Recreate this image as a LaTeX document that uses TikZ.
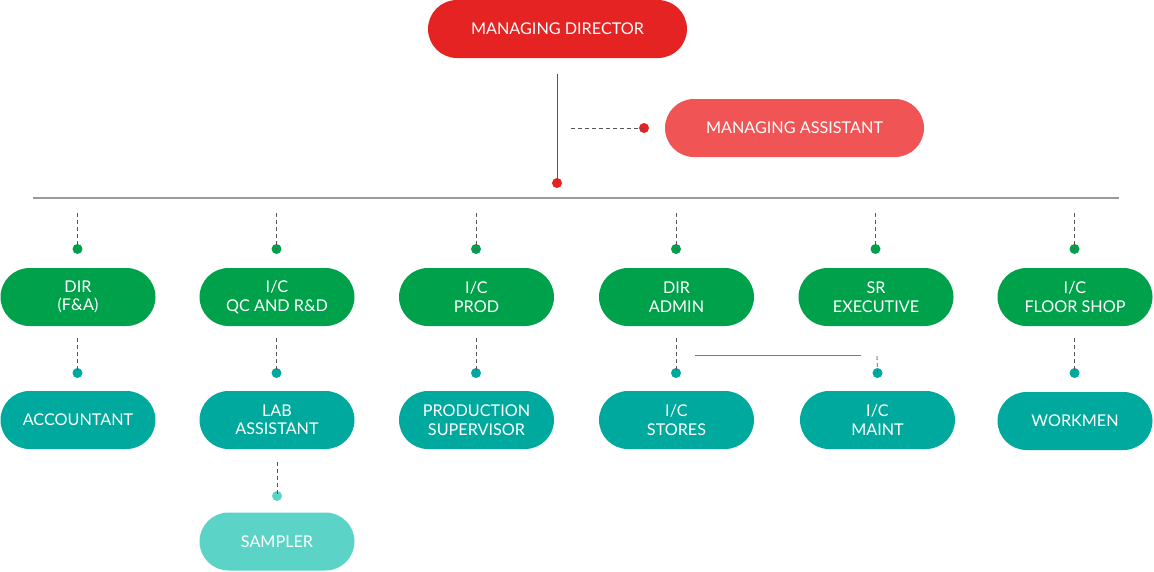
\documentclass[tikz,border=0pt]{standalone}
\usepackage{fontspec}
\setmainfont{Lato}
\definecolor{mdred}{HTML}{E62323}
\definecolor{mared}{HTML}{F05455}
\definecolor{dgreen}{HTML}{00A14B}
\definecolor{dteal}{HTML}{00A99D}
\definecolor{lteal}{HTML}{5CD3C7}
\definecolor{lgray}{HTML}{9A9A9A}
\definecolor{dgray}{HTML}{555555}
\tikzset{
  pill/.style={rounded corners=29pt, minimum height=58pt, text=white, align=center,
    inner sep=0pt, font=\fontsize{16.2}{18.5}\selectfont},
  lvl1/.style={pill, fill=dgreen, minimum width=155pt},
  lvl2/.style={pill, fill=dteal, minimum width=155pt},
  lvl3/.style={pill, fill=lteal, minimum width=155pt},
  dot/.style={circle, inner sep=0pt, minimum size=10pt},
  dashlink/.style={draw=dgray, line width=0.8pt, dash pattern=on 4pt off 3pt},
  solidlink/.style={draw=dgray, line width=1pt},
}
\begin{document}
\begin{tikzpicture}[x=1pt,y=-1pt]
\useasboundingbox (0,0) rectangle (1154,571);
% top
\node[pill, fill=mdred, minimum width=259pt] (md) at (557.5,29) {MANAGING DIRECTOR};
\node[pill, fill=mared, minimum width=259pt] (ma) at (794.5,128) {MANAGING ASSISTANT};
\node[dot, fill=mdred] (mddot) at (557,183) {};
\node[dot, fill=mdred] (madot) at (644,128) {};
\coordinate (mdtop) at (557,74);
\coordinate (mastart) at (571,128);
\draw[solidlink] (mdtop) -- (mddot.center);
\draw[dashlink] (mastart) -- (madot.center);
% bar
\coordinate (barL) at (33,198);
\coordinate (barR) at (1119,198);
\draw[draw=lgray, line width=1.2pt] (barL) -- (barR);
% level 1
\foreach \n/\x/\t in {a/78/{DIR\\(F\&A)}, b/277/{I/C\\QC AND R\&D}, c/476.5/{I/C\\PROD},
    d/676.5/{DIR\\ADMIN}, e/876/{SR\\EXECUTIVE}, f/1075/{I/C\\FLOOR SHOP}}{
  \node[lvl1] (\n1) at (\x,297) {\t};
  \node[dot, fill=dgreen] (\n1dot) at (\x-0.5,249) {};
  \coordinate (\n1top) at (\x-0.5,213);
  \draw[dashlink] (\n1top) -- (\n1dot.center);
}
% level 2
\node[lvl2] (a2) at (78,420) {ACCOUNTANT};
\node[lvl2] (b2) at (277,420) {LAB\\ASSISTANT};
\node[lvl2] (c2) at (476.5,420) {PRODUCTION\\SUPERVISOR};
\node[lvl2] (d2) at (676.5,420) {I/C\\STORES};
\node[lvl2] (e2) at (877.5,420) {I/C\\MAINT};
\node[lvl2] (f2) at (1075,421) {WORKMEN};
\foreach \n/\x in {a/77.5, b/276.5, c/476, d/676, f/1074.5}{
  \node[dot, fill=dteal] (\n2dot) at (\x,373) {};
  \coordinate (\n2top) at (\x,338);
  \draw[dashlink] (\n2top) -- (\n2dot.center);
}
\node[dot, fill=dteal] (e2dot) at (877.5,373) {};
\coordinate (linkL) at (695,355);
\coordinate (linkR) at (861,355);
\coordinate (e2top) at (877,356);
\draw[solidlink, draw=lgray!80!black] (linkL) -- (linkR);
\draw[dashlink] (e2top) -- (e2dot.center);
% level 3
\node[lvl3] (b3) at (277,541.5) {SAMPLER};
\node[dot, fill=lteal] (b3dot) at (277,496) {};
\coordinate (b3top) at (277,462);
\draw[dashlink] (b3top) -- (b3dot.center);
\end{tikzpicture}
\end{document}
